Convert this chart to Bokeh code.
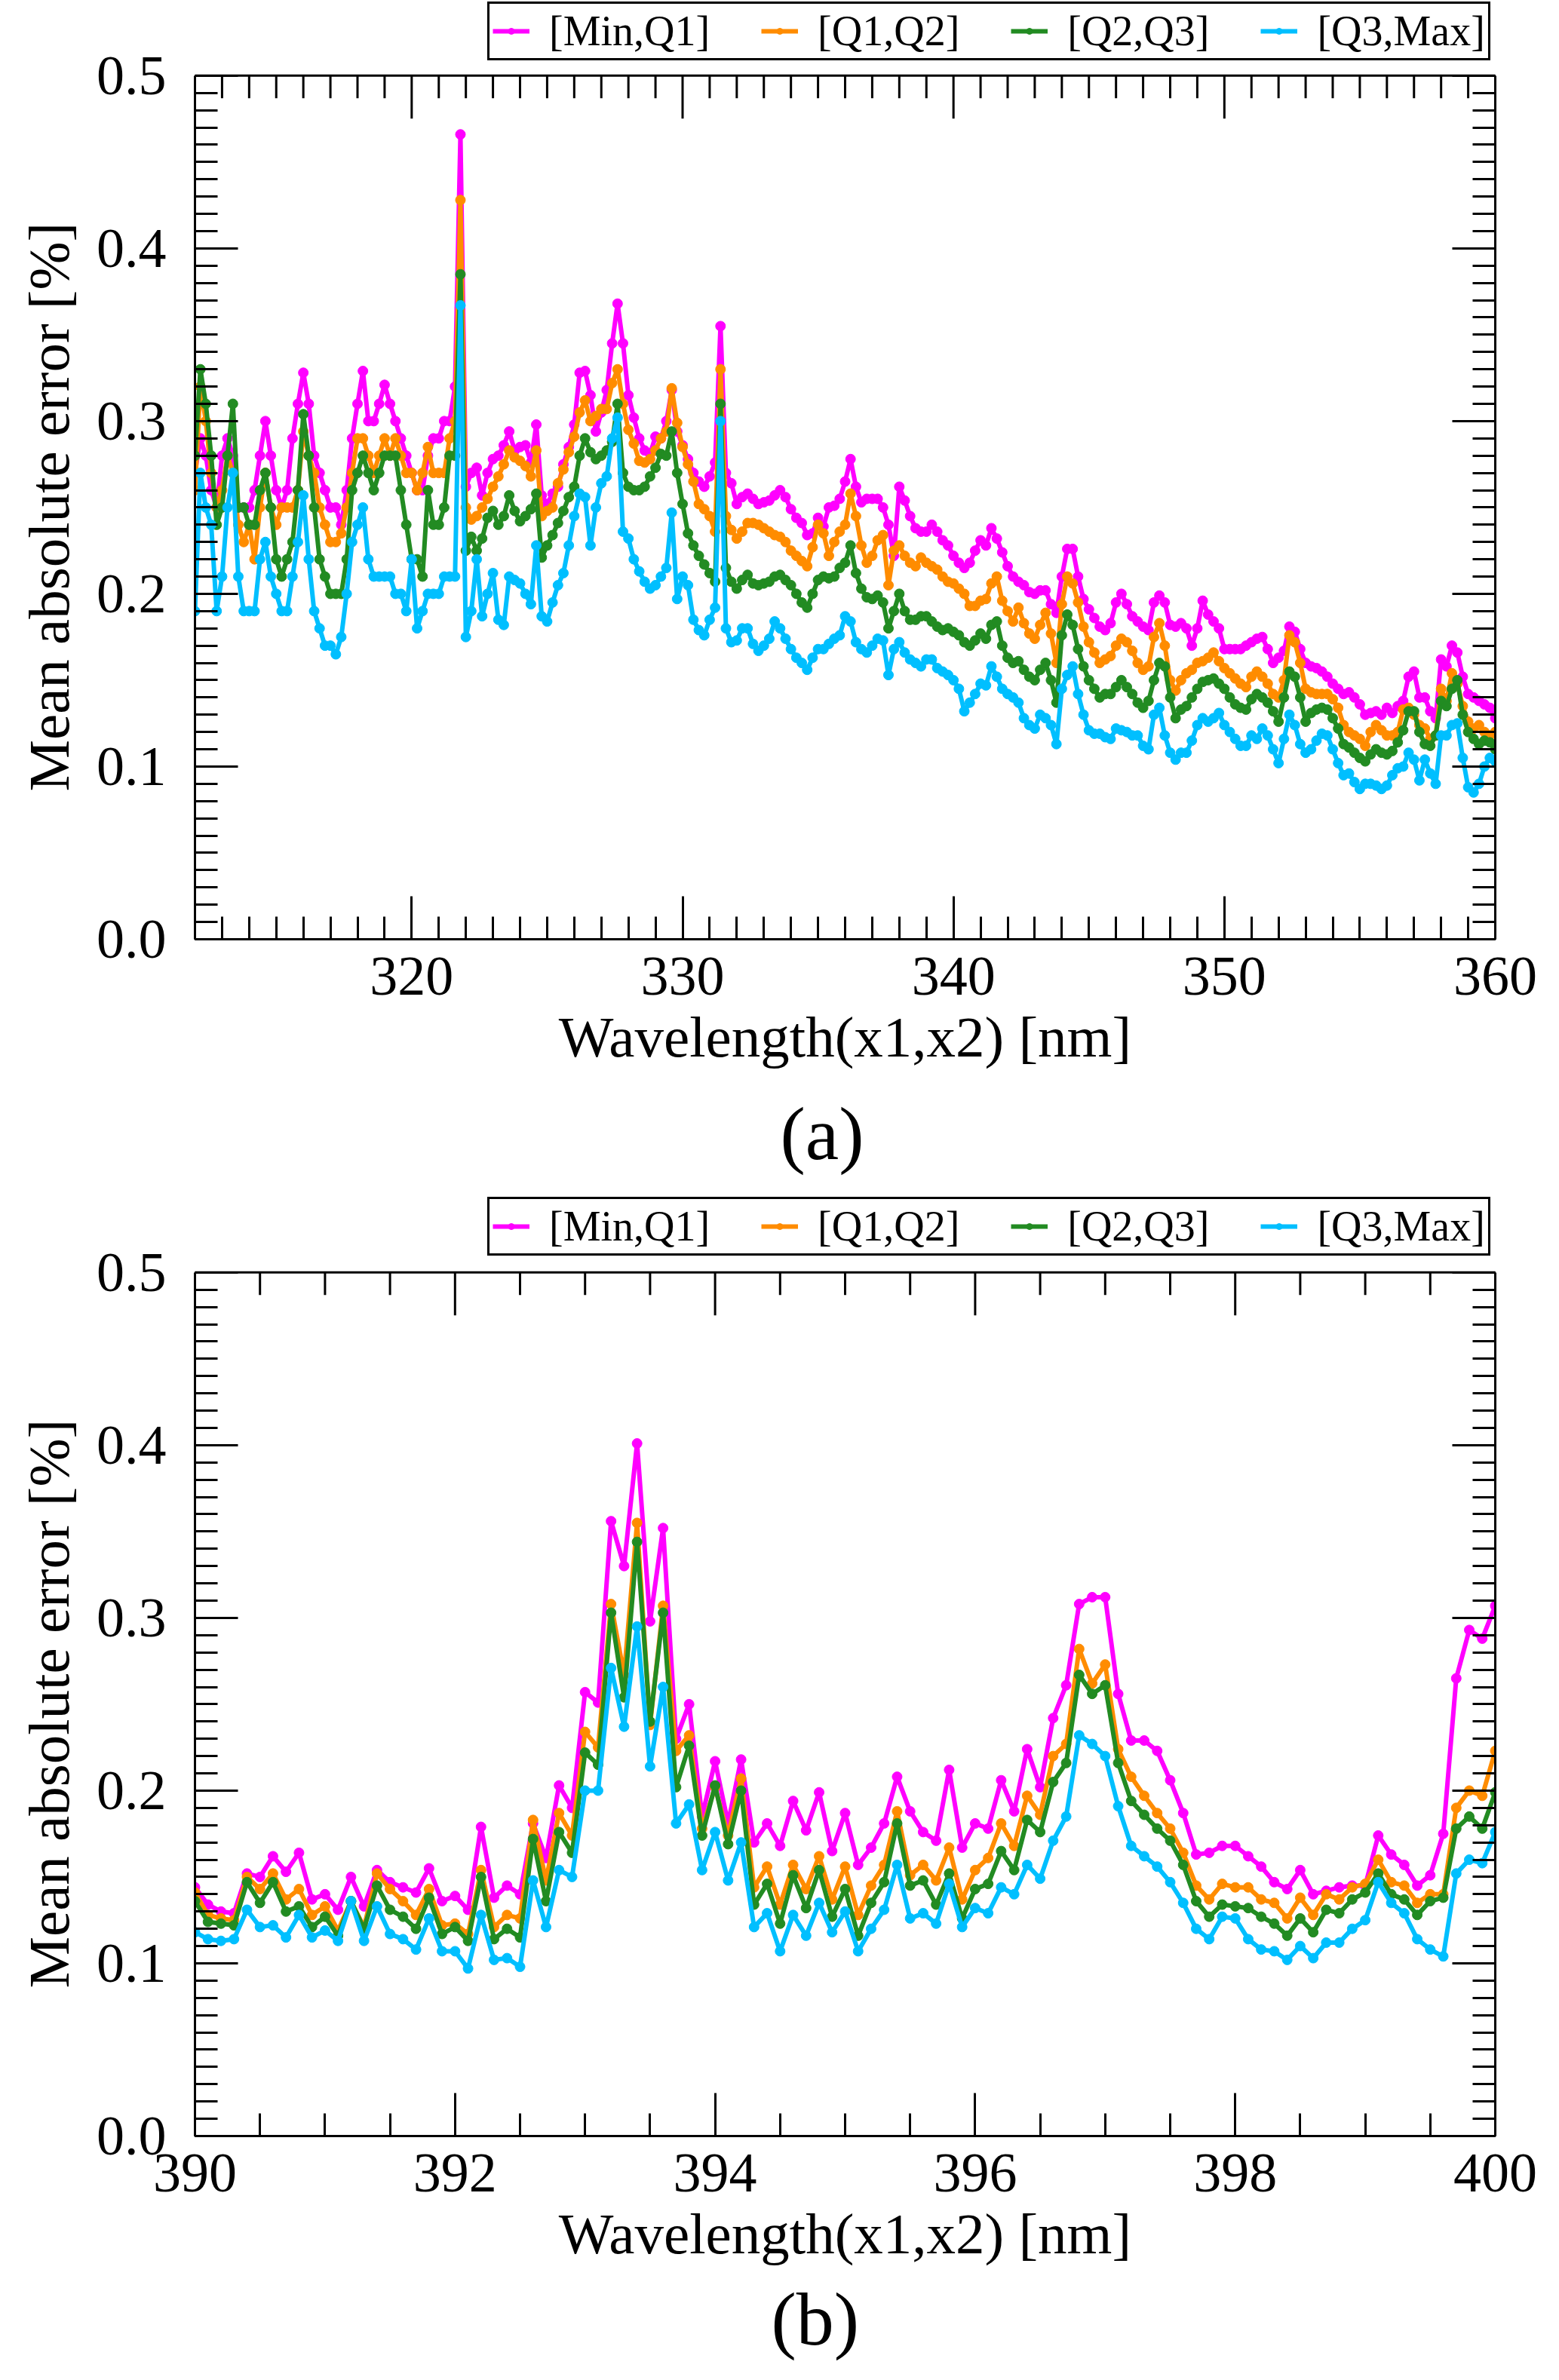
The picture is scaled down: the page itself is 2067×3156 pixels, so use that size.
import numpy as np
from bokeh.plotting import figure
from bokeh.layouts import column
from bokeh.models import (Legend, LegendItem, LinearAxis, FixedTicker, PrintfTickFormatter,
                          CustomJSTickFormatter, Title, Range1d, Span)
from bokeh.embed import file_html
from bokeh.resources import INLINE

FONT = "Liberation Serif"
PAGE_W = 2051
PX_PER_UNIT = 2294.0   # pixels per 1.0 of the y axis (0.1 = 229.4 px)

series_names = ["[Min,Q1]", "[Q1,Q2]", "[Q2,Q3]", "[Q3,Max]"]
series_colors = ["#FF00FF", "#FF8C00", "#228B22", "#00BFFF"]

# panel (a): 312-360 nm, read every 0.2 nm
wl_a = [round(312 + 0.2 * i, 1) for i in range(241)]

a_min_q1 = [
    .27, .29, .28, .26, .25, .28, .29, .28, .25, .25, .25, .26, .28, .30, .28, .26, .25, .26, .29, .31,
    .328, .31, .28, .27, .26, .25, .25, .24, .26, .29, .31, .329, .30, .30, .31, .321, .31, .30, .29, .28,
    .27, .26, .26, .28, .29, .29, .30, .30, .32,
    .466, .262, .27, .273, .257, .27, .278, .28, .286, .294, .283, .285, .286, .276, .298, .257, .252, .258,
    .262, .275, .285, .298, .328, .329, .315, .294, .305, .318, .345, .368, .345, .315, .302, .29, .283, .281,
    .291, .29, .30, .318, .294, .286, .278, .27, .265, .262, .268, .276, .355,
    .270, .264, .252, .256, .258, .255, .252, .253, .254, .257, .260, .256, .249, .244, .241, .234, .235, .244,
    .239, .250, .251, .255, .265, .278, .262, .253, .255, .255, .255, .250, .240, .222, .262, .254, .245, .238,
    .236, .236, .240, .236, .231, .228, .222, .218, .215, .218, .225, .231,
    .228, .238, .232, .224, .216, .21, .207, .205, .201, .2, .202, .202, .194, .189, .21, .226, .226, .21,
    .197, .191, .186, .181, .179, .183, .195, .2, .194, .187, .184, .181, .179, .195, .199, .195, .182, .181,
    .183, .18, .17, .18, .196, .188, .184, .18, .168, .168, .168, .168, .17,
    .172, .174, .175, .168, .16, .163, .167, .181, .178, .168, .16, .158, .157, .155, .152, .148, .145, .142,
    .143, .14, .136, .13, .131, .132, .13, .134, .131, .135, .138, .152, .155, .14, .14, .132, .128, .162,
    .158, .17, .166, .152, .142, .14, .138, .136, .134, .128,
]
a_q1_q2 = [
    .26, .32, .30, .27, .25, .26, .28, .27, .24, .23, .24, .22, .25, .27, .25, .24, .25, .25, .25, .26,
    .294, .28, .27, .25, .24, .23, .23, .235, .25, .27, .29, .29, .28, .27, .28, .29, .28, .29, .28, .27,
    .27, .26, .27, .285, .27, .27, .27, .29, .30,
    .428, .25, .243, .245, .25, .255, .262, .268, .275, .283, .279, .277, .274, .268, .283, .245, .248, .25,
    .264, .272, .282, .291, .305, .312, .30, .303, .307, .307, .322, .33, .31, .295, .287, .277, .276, .278,
    .283, .29, .294, .319, .299, .285, .275, .265, .252, .249, .245, .236, .33,
    .245, .237, .232, .236, .241, .241, .240, .238, .236, .234, .233, .230, .225, .222, .219, .216, .227, .240,
    .235, .222, .230, .236, .240, .258, .245, .228, .218, .222, .231, .234, .205, .225, .228, .222, .218, .216,
    .221, .218, .216, .214, .210, .207, .206, .203, .200, .193, .193, .196,
    .197, .206, .21, .196, .19, .184, .192, .183, .177, .174, .182, .189, .177, .16, .194, .21, .206, .195,
    .181, .172, .166, .16, .162, .164, .17, .174, .172, .167, .16, .156, .158, .175, .183, .17, .15, .144,
    .15, .154, .156, .16, .161, .163, .166, .161, .157, .154, .151, .148, .146,
    .152, .155, .152, .148, .142, .14, .15, .176, .172, .16, .145, .143, .142, .142, .142, .139, .134, .124,
    .12, .118, .116, .112, .12, .124, .121, .118, .118, .12, .133, .134, .13, .124, .122, .116, .118, .145,
    .138, .154, .148, .135, .126, .122, .124, .12, .118, .12,
]
a_q2_q3 = [
    .28, .33, .31, .28, .24, .25, .28, .31, .25, .25, .24, .24, .26, .27, .25, .22, .21, .22, .23, .26,
    .304, .28, .25, .22, .21, .20, .20, .20, .22, .26, .27, .28, .27, .26, .27, .28, .28, .28, .26, .24,
    .22, .22, .21, .26, .24, .24, .25, .28, .28,
    .385, .225, .233, .225, .232, .244, .248, .24, .245, .257, .248, .242, .245, .249, .258, .221, .228, .234,
    .241, .248, .256, .262, .28, .29, .282, .278, .28, .283, .288, .31, .27, .262, .26, .26, .262, .268,
    .273, .281, .28, .294, .27, .252, .235, .228, .222, .217, .212, .207, .31,
    .215, .207, .203, .208, .211, .206, .205, .206, .207, .210, .211, .208, .205, .200, .195, .192, .200, .208,
    .210, .209, .210, .215, .218, .228, .212, .203, .198, .197, .199, .195, .180, .190, .200, .190, .185, .185,
    .187, .187, .184, .181, .179, .180, .178, .176, .172, .170, .173, .177,
    .174, .182, .184, .17, .163, .16, .161, .156, .152, .15, .156, .16, .15, .137, .176, .188, .182, .168,
    .158, .15, .145, .14, .142, .142, .146, .15, .146, .142, .137, .134, .138, .15, .16, .158, .14, .128,
    .133, .135, .14, .145, .149, .15, .151, .148, .145, .14, .136, .134, .133,
    .139, .142, .14, .137, .132, .126, .14, .155, .152, .14, .126, .131, .133, .134, .133, .128, .122, .113,
    .111, .108, .105, .103, .107, .11, .108, .107, .109, .114, .121, .132, .132, .12, .113, .112, .118, .138,
    .135, .145, .15, .13, .12, .116, .113, .115, .114, .11,
]
a_q3_max = [
    .19, .27, .25, .24, .19, .21, .25, .27, .21, .19, .19, .19, .22, .23, .21, .20, .19, .19, .21, .23,
    .257, .22, .19, .18, .17, .17, .165, .175, .20, .23, .24, .25, .22, .21, .21, .21, .21, .20, .20, .19,
    .22, .18, .19, .20, .20, .20, .21, .21, .21,
    .367, .175, .19, .22, .187, .20, .212, .185, .182, .21, .208, .206, .20, .194, .228, .187, .184, .195,
    .205, .212, .228, .245, .258, .256, .228, .25, .264, .268, .29, .302, .236, .232, .22, .213, .207, .203,
    .205, .21, .215, .247, .197, .21, .205, .185, .179, .176, .185, .192, .30,
    .180, .172, .173, .180, .180, .171, .167, .170, .174, .184, .180, .174, .168, .163, .160, .156, .163, .168,
    .168, .171, .174, .176, .187, .184, .172, .168, .166, .170, .174, .173, .153, .168, .172, .166, .162, .160,
    .158, .162, .162, .157, .155, .153, .150, .145, .132, .137, .142, .148,
    .147, .158, .152, .145, .142, .14, .137, .128, .124, .122, .13, .128, .124, .113, .145, .153, .158, .142,
    .13, .121, .119, .119, .117, .116, .122, .121, .12, .118, .118, .112, .11, .13, .134, .118, .108, .104,
    .108, .108, .115, .124, .128, .126, .128, .131, .124, .12, .116, .112, .112,
    .118, .116, .122, .118, .11, .102, .116, .13, .124, .113, .108, .11, .115, .119, .118, .11, .102, .095,
    .096, .091, .087, .09, .09, .089, .087, .089, .095, .099, .1, .108, .104, .092, .104, .096, .09, .118,
    .118, .124, .125, .105, .088, .085, .09, .1, .105, .103,
]

# panel (b): 390-400 nm, every 0.1 nm
wl_b = [round(390 + 0.1 * i, 1) for i in range(101)]

b_min_q1 = [
    .144, .134, .130, .129, .152, .150, .162, .153, .164, .137,
    .140, .131, .150, .133, .154, .147, .144, .141, .155, .136,
    .139, .131, .179, .138, .145, .140, .181, .161, .203, .190,
    .257, .251, .356, .330, .401, .298, .352, .230, .250, .185,
    .217, .181, .218, .170, .181, .168, .194, .177, .199, .165,
    .187, .157, .167, .181, .208, .188, .176, .171, .212, .167,
    .181, .178, .206, .188, .224, .202, .242, .261, .308, .312,
    .312, .256, .229, .229, .223, .206, .187, .163, .164, .168,
    .168, .162, .156, .147, .143, .154, .140, .142, .144, .145,
    .145, .174, .163, .157, .145, .151, .175, .265, .293, .288,
    .307,
]
b_q1_q2 = [
    .141, .128, .126, .125, .150, .143, .152, .137, .143, .128,
    .133, .119, .136, .121, .152, .143, .136, .128, .143, .122,
    .123, .117, .154, .121, .128, .126, .183, .148, .187, .174,
    .234, .225, .308, .267, .355, .238, .307, .223, .232, .178,
    .202, .174, .207, .144, .156, .134, .157, .143, .162, .137,
    .156, .128, .145, .157, .188, .151, .157, .148, .167, .137,
    .154, .161, .181, .168, .197, .186, .220, .227, .282, .262,
    .273, .224, .208, .197, .187, .178, .164, .145, .137, .146,
    .144, .144, .137, .135, .126, .138, .128, .140, .137, .144,
    .146, .160, .147, .145, .135, .140, .140, .190, .200, .197,
    .223,
]
b_q2_q3 = [
    .136, .124, .123, .122, .147, .135, .147, .130, .133, .121,
    .127, .116, .136, .120, .145, .131, .127, .120, .138, .117,
    .121, .113, .150, .114, .120, .115, .172, .136, .176, .164,
    .222, .215, .303, .254, .344, .240, .303, .202, .226, .174,
    .203, .169, .200, .134, .146, .123, .151, .132, .154, .127,
    .143, .116, .135, .147, .181, .145, .148, .134, .152, .126,
    .143, .146, .165, .154, .183, .176, .205, .216, .267, .256,
    .261, .216, .194, .186, .178, .171, .157, .136, .127, .134,
    .133, .132, .127, .123, .116, .126, .118, .131, .129, .137,
    .141, .152, .140, .137, .128, .136, .138, .178, .185, .178,
    .199,
]
b_q3_max = [
    .118, .114, .113, .114, .131, .121, .122, .115, .128, .115,
    .119, .113, .136, .113, .133, .117, .114, .108, .126, .107,
    .107, .097, .128, .102, .103, .098, .148, .121, .154, .150,
    .200, .200, .271, .237, .295, .214, .260, .181, .192, .154,
    .176, .148, .170, .121, .129, .107, .128, .116, .135, .118,
    .130, .107, .120, .131, .157, .126, .129, .123, .146, .121,
    .132, .129, .144, .140, .157, .149, .171, .185, .232, .227,
    .220, .191, .168, .162, .156, .147, .135, .120, .114, .127,
    .126, .114, .108, .107, .102, .110, .103, .112, .112, .120,
    .125, .147, .135, .129, .114, .108, .104, .152, .160, .158,
    .176,
]

y_major = [0, 0.1, 0.2, 0.3, 0.4, 0.5]
y_minor = [round(0.01 * i, 2) for i in range(51)]
Y_TOP = 0.5


def style_axis(ax, ticker, fmt=None):
    ax.ticker = ticker
    ax.major_tick_in = 57
    ax.major_tick_out = 0
    ax.minor_tick_in = 30
    ax.minor_tick_out = 0
    ax.major_tick_line_width = 3
    ax.minor_tick_line_width = 3
    ax.major_tick_line_color = "black"
    ax.minor_tick_line_color = "black"
    ax.axis_line_width = 3
    ax.axis_line_color = "black"
    if fmt is None:
        # mirrored axis: ticks only
        ax.formatter = CustomJSTickFormatter(code="return ''")
        ax.major_label_standoff = 0
        ax.major_label_text_font_size = "1px"
    else:
        ax.formatter = fmt
        ax.major_label_text_font = FONT
        ax.major_label_text_font_size = "74px"
        ax.major_label_text_color = "black"
    ax.axis_label_text_font = FONT
    ax.axis_label_text_font_size = "77px"
    ax.axis_label_text_font_style = "normal"
    ax.axis_label_text_color = "black"


def make_panel(x, ys, xr, x_major, x_minor, tag, head_px, top, bottom, legend_xy,
               tag_gap, tag_left):
    # the frame reaches head_px above the 0.5 line so that the legend can sit there
    y_hi = Y_TOP + head_px / PX_PER_UNIT
    height = top + int(round(y_hi * PX_PER_UNIT)) + bottom
    p = figure(width=PAGE_W, height=height, x_range=Range1d(*xr), y_range=Range1d(0, y_hi),
               output_backend="svg", toolbar_location=None, title=None,
               min_border_left=258, min_border_right=69,
               min_border_top=top, min_border_bottom=bottom)
    p.xgrid.visible = False
    p.ygrid.visible = False
    p.outline_line_color = None

    style_axis(p.xaxis[0], FixedTicker(ticks=x_major, minor_ticks=x_minor),
               PrintfTickFormatter(format="%d"))
    style_axis(p.yaxis[0], FixedTicker(ticks=y_major, minor_ticks=y_minor),
               PrintfTickFormatter(format="%.1f"))
    p.yaxis[0].bounds = (0, Y_TOP)
    p.xaxis[0].axis_label = "Wavelength(x1,x2) [nm]"
    p.xaxis[0].major_label_standoff = 24
    p.xaxis[0].axis_label_standoff = 10
    p.yaxis[0].major_label_standoff = 38

    # y label centred on the 0..0.5 box, not on the taller frame
    ylab = Title(text="Mean absolute error [%]", align="left", offset=196, standoff=34,
                 text_font=FONT, text_font_size="77px", text_font_style="normal",
                 text_color="black")
    p.add_layout(ylab, "left")

    right_ax = LinearAxis(bounds=(0, Y_TOP))
    style_axis(right_ax, FixedTicker(ticks=y_major, minor_ticks=y_minor))
    p.add_layout(right_ax, "right")

    items = []
    for name, col, y in zip(series_names, series_colors, ys):
        ln = p.line(x, y, line_color=col, line_width=6)
        sc = p.scatter(x, y, marker="circle", size=13, fill_color=col, line_color=col)
        items.append(LegendItem(label=name, renderers=[ln, sc]))

    # top edge of the box with inward ticks
    p.add_layout(Span(location=Y_TOP, dimension="width", line_color="black", line_width=3))
    minors = [t for t in x_minor if t not in x_major]
    p.segment(x0=x_major, y0=[Y_TOP] * len(x_major), x1=x_major,
              y1=[Y_TOP - 57 / PX_PER_UNIT] * len(x_major), line_color="black", line_width=3)
    p.segment(x0=minors, y0=[Y_TOP] * len(minors), x1=minors,
              y1=[Y_TOP - 30 / PX_PER_UNIT] * len(minors), line_color="black", line_width=3)

    leg = Legend(items=items, orientation="horizontal", location=legend_xy,
                 label_text_font=FONT, label_text_font_size="56px", label_text_color="black",
                 glyph_width=49, glyph_height=20, label_standoff=26, spacing=68,
                 padding=4, margin=0, border_line_color="black", border_line_width=3,
                 border_line_alpha=1.0,
                 background_fill_color="white", background_fill_alpha=1.0)
    p.add_layout(leg)

    t = Title(text=tag, align="left", offset=tag_left, standoff=tag_gap,
              text_font=FONT, text_font_size="100px", text_font_style="normal",
              text_color="black")
    p.add_layout(t, "below")
    return p


# frame (0..0.5) spans page y 108..1255 for (a) and 1695..2842 for (b)
pa = make_panel(wl_a, [a_min_q1, a_q1_q2, a_q2_q3, a_q3_max], (312, 360),
                [320, 330, 340, 350, 360], list(range(312, 361)), "(a)",
                98, 2, 336, (388, 1165), 50, 776)
pb = make_panel(wl_b, [b_min_q1, b_q1_q2, b_q2_q3, b_q3_max], (390, 400),
                [390, 392, 394, 396, 398, 400], [390 + 0.5 * i for i in range(21)], "(b)",
                100, 4, 306, (388, 1167), 20, 764)

layout = column(pa, pb, spacing=0)
open("out.html", "w").write(file_html(layout, INLINE))
